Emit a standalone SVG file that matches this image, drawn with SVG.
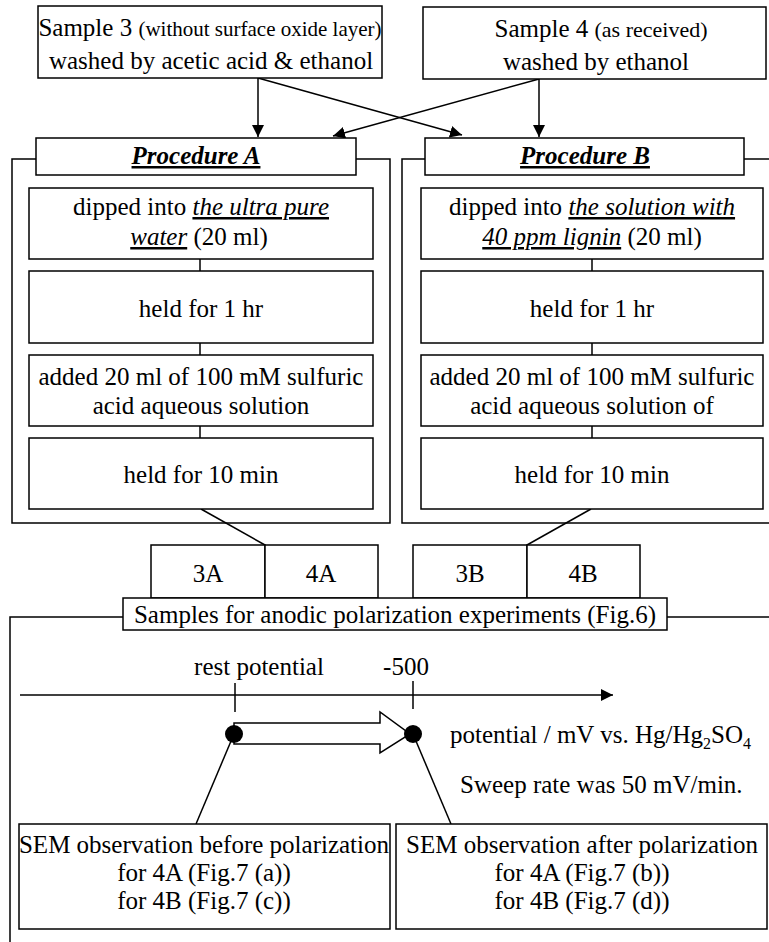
<svg xmlns="http://www.w3.org/2000/svg" width="769" height="942" viewBox="0 0 769 942">
<defs>
<style>
text{font-family:"Liberation Serif","Times New Roman",serif;font-size:25px;fill:#000}
.box{fill:#fff;stroke:#000;stroke-width:1.5}
.ln{fill:none;stroke:#000;stroke-width:1.5}
.sm{font-size:21px}
.sm2{font-size:22px}
.it{font-style:italic;text-decoration:underline}
.proc{font-weight:bold;font-style:italic;text-decoration:underline;font-size:25px}
.m{text-anchor:middle}
</style>
<marker id="ah" viewBox="0 0 12 12" refX="12" refY="6" markerWidth="12" markerHeight="12" markerUnits="userSpaceOnUse" orient="auto">
<path d="M0,0 L12,6 L0,12 Z" fill="#000"/>
</marker>
</defs>
<rect width="769" height="942" fill="#fff"/>

<g id="frames">
<path class="ln" d="M36,159 H12 V523 H390 V159 H356"/>
<path class="ln" d="M425,159 H402 V523 H769"/>
<path class="ln" d="M744,159 H769"/>
<path class="ln" d="M123,617 H10 V942"/>
<path class="ln" d="M667,617 H769"/>
</g>

<g id="connectors">
<line class="ln" x1="258" y1="78" x2="258" y2="137" marker-end="url(#ah)"/>
<line class="ln" x1="258" y1="78" x2="462" y2="135" marker-end="url(#ah)"/>
<line class="ln" x1="539" y1="79" x2="539" y2="137" marker-end="url(#ah)"/>
<line class="ln" x1="539" y1="79" x2="333" y2="136" marker-end="url(#ah)"/>
<line class="ln" x1="200" y1="259" x2="200" y2="271"/>
<line class="ln" x1="200" y1="343" x2="200" y2="355"/>
<line class="ln" x1="200" y1="426" x2="200" y2="438"/>
<line class="ln" x1="592" y1="259" x2="592" y2="271"/>
<line class="ln" x1="592" y1="343" x2="592" y2="355"/>
<line class="ln" x1="592" y1="426" x2="592" y2="438"/>
<line class="ln" x1="201" y1="509" x2="265" y2="545"/>
<line class="ln" x1="591" y1="509" x2="527" y2="545"/>
<line class="ln" x1="234" y1="734" x2="196" y2="824"/>
<line class="ln" x1="413" y1="734" x2="451" y2="824"/>
</g>

<g id="sample3">
<rect class="box" x="38" y="6" width="344" height="72"/>
<text class="m" x="210" y="36">Sample 3 <tspan class="sm">(without surface oxide layer)</tspan></text>
<text class="m" x="211" y="69">washed by acetic acid &amp; ethanol</text>
</g>
<g id="sample4">
<rect class="box" x="423" y="7" width="343" height="72"/>
<text class="m" x="601" y="37">Sample 4 <tspan class="sm2">(as received)</tspan></text>
<text class="m" x="596" y="70">washed by ethanol</text>
</g>

<g id="procA">
<rect class="box" x="36" y="138" width="320" height="37"/>
<text class="m proc" x="196" y="164">Procedure A</text>
</g>
<g id="procB">
<rect class="box" x="425" y="138" width="319" height="37"/>
<text class="m proc" x="585" y="164">Procedure B</text>
</g>

<g id="a1">
<rect class="box" x="29" y="188" width="344" height="71"/>
<text class="m" x="201" y="215">dipped into <tspan class="it">the ultra pure</tspan></text>
<text class="m" x="199" y="245"><tspan class="it">water</tspan> (20 ml)</text>
</g>
<g id="a2">
<rect class="box" x="29" y="271" width="344" height="72"/>
<text class="m" x="201" y="317">held for 1 hr</text>
</g>
<g id="a3">
<rect class="box" x="29" y="355" width="344" height="71"/>
<text class="m" x="201" y="385">added 20 ml of 100 mM sulfuric</text>
<text class="m" x="201" y="414">acid aqueous solution</text>
</g>
<g id="a4">
<rect class="box" x="29" y="438" width="344" height="71"/>
<text class="m" x="201" y="483">held for 10 min</text>
</g>

<g id="b1">
<rect class="box" x="421" y="188" width="342" height="71"/>
<text class="m" x="592" y="215">dipped into <tspan class="it">the solution with</tspan></text>
<text class="m" x="592" y="245"><tspan class="it">40 ppm lignin</tspan> (20 ml)</text>
</g>
<g id="b2">
<rect class="box" x="421" y="271" width="342" height="72"/>
<text class="m" x="592" y="317">held for 1 hr</text>
</g>
<g id="b3">
<rect class="box" x="421" y="355" width="342" height="71"/>
<text class="m" x="592" y="385">added 20 ml of 100 mM sulfuric</text>
<text class="m" x="592" y="414">acid aqueous solution of</text>
</g>
<g id="b4">
<rect class="box" x="421" y="438" width="342" height="71"/>
<text class="m" x="592" y="483">held for 10 min</text>
</g>

<g id="s3A"><rect class="box" x="151" y="545" width="114" height="53"/><text class="m" x="208" y="582">3A</text></g>
<g id="s4A"><rect class="box" x="265" y="545" width="113" height="53"/><text class="m" x="321" y="582">4A</text></g>
<g id="s3B"><rect class="box" x="413" y="545" width="114" height="53"/><text class="m" x="470" y="582">3B</text></g>
<g id="s4B"><rect class="box" x="527" y="545" width="113" height="53"/><text class="m" x="583" y="582">4B</text></g>

<g id="samples">
<rect class="box" x="123" y="598" width="544" height="32"/>
<text class="m" x="395" y="623">Samples for anodic polarization experiments (Fig.6)</text>
</g>

<g id="axis">
<line class="ln" x1="20" y1="695" x2="613" y2="695" marker-end="url(#ah)"/>
<line class="ln" x1="235" y1="683" x2="235" y2="712"/>
<line class="ln" x1="413" y1="681" x2="413" y2="709"/>
<text class="m" x="259" y="675">rest potential</text>
<text class="m" x="406" y="675">-500</text>
<text x="450" y="743">potential / mV vs. Hg/Hg<tspan font-size="16" dy="6">2</tspan><tspan dy="-6">SO</tspan><tspan font-size="16" dy="6">4</tspan></text>
<text x="460" y="793">Sweep rate was 50 mV/min.</text>
</g>

<g id="sweep">
<path class="ln" d="M234,723 H380 V712 L410,734 L380,753 V744 H234 Z" style="fill:#fff"/>
<circle cx="234" cy="734" r="9" fill="#000"/>
<circle cx="413" cy="734" r="9" fill="#000"/>
</g>

<g id="sem1">
<rect class="box" x="19" y="824" width="371" height="105"/>
<text class="m" x="204" y="853">SEM observation before polarization</text>
<text class="m" x="204" y="881">for 4A (Fig.7 (a))</text>
<text class="m" x="204" y="909">for 4B (Fig.7 (c))</text>
</g>
<g id="sem2">
<rect class="box" x="396" y="824" width="371" height="105"/>
<text class="m" x="582" y="853">SEM observation after polarization</text>
<text class="m" x="582" y="881">for 4A (Fig.7 (b))</text>
<text class="m" x="582" y="909">for 4B (Fig.7 (d))</text>
</g>
</svg>
